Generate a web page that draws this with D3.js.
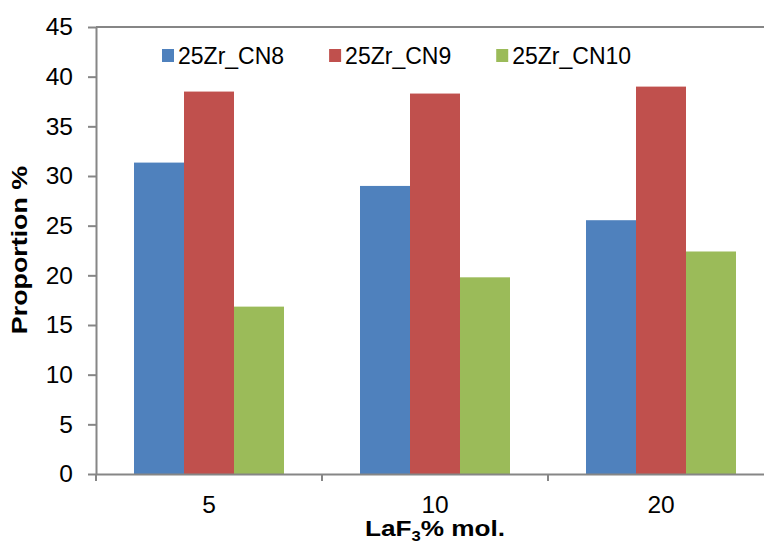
<!DOCTYPE html>
<html>
<head>
<meta charset="utf-8">
<script src="https://cdn.jsdelivr.net/npm/d3@7"></script>
<style>
  html, body { margin: 0; padding: 0; background: #fff; overflow: hidden; }
  text { font-family: "Liberation Sans", Arial, sans-serif; fill: #000; }
</style>
</head>
<body>
<svg id="chart" width="764" height="543"></svg>
<script>
const categories = ["5", "10", "20"];
const series = ["25Zr_CN8", "25Zr_CN9", "25Zr_CN10"];
const cn8Values = [31.35, 29.0, 25.55];
const cn9Values = [38.5, 38.3, 39.0];
const cn10Values = [16.85, 19.8, 22.4];
const seriesColors = ["#4F81BD", "#C0504D", "#9BBB59"];
const yTicks = [0, 5, 10, 15, 20, 25, 30, 35, 40, 45];
const yTitle = "Proportion %";

const valuesBySeries = [cn8Values, cn9Values, cn10Values];
const data = categories.map((c, i) => ({
  cat: c,
  vals: series.map((s, j) => ({ s, j, v: valuesBySeries[j][i] }))
}));

const svg = d3.select("#chart");
const pLeft = 96, pRight = 774, pTop = 27, pBottom = 474;
const axisColor = "#868686";

const x0 = d3.scaleBand().domain(categories).range([pLeft, pRight]).paddingInner(0).paddingOuter(0);
const x1 = d3.scaleBand().domain(series).range([0, x0.bandwidth()]).paddingInner(0).paddingOuter(0.76);
const y = d3.scaleLinear().domain([0, 45]).range([pBottom, pTop]);

// bars
const g = svg.append("g");
g.selectAll("g.cat").data(data).join("g")
  .attr("class", "cat")
  .attr("transform", d => `translate(${x0(d.cat)},0)`)
  .selectAll("rect").data(d => d.vals).join("rect")
  .attr("x", d => x1(d.s))
  .attr("width", x1.bandwidth())
  .attr("y", d => y(d.v))
  .attr("height", d => y(0) - y(d.v))
  .attr("fill", d => seriesColors[d.j]);

// top border
svg.append("line").attr("x1", pLeft).attr("x2", pRight).attr("y1", pTop).attr("y2", pTop)
  .attr("stroke", axisColor).attr("stroke-width", 2);

// y axis
const yAxis = d3.axisLeft(y).tickValues(yTicks).tickSize(8).tickPadding(15).tickSizeOuter(0);
const yg = svg.append("g").attr("transform", `translate(${pLeft},0)`).call(yAxis);
yg.select(".domain").attr("stroke", axisColor).attr("stroke-width", 2);
yg.selectAll(".tick line").attr("stroke", axisColor).attr("stroke-width", 2);
yg.selectAll(".tick text").attr("font-size", 24.5).attr("font-family", "Liberation Sans, Arial, sans-serif").attr("fill", "#000");

// x axis
const xAxis = d3.axisBottom(x0).tickSize(0).tickPadding(22);
const xg = svg.append("g").attr("transform", `translate(0,${pBottom})`).call(xAxis);
xg.select(".domain").attr("stroke", axisColor).attr("stroke-width", 2);
xg.selectAll(".tick text").attr("font-size", 24.5).attr("font-family", "Liberation Sans, Arial, sans-serif").attr("fill", "#000");
// boundary ticks between categories
const bounds = categories.map(c => x0(c)).concat([pRight]);
xg.selectAll("line.bound").data(bounds).join("line")
  .attr("class", "bound")
  .attr("x1", d => d).attr("x2", d => d)
  .attr("y1", 0).attr("y2", 7)
  .attr("stroke", axisColor).attr("stroke-width", 2);

// axis titles
svg.append("text")
  .attr("transform", `translate(27,250) rotate(-90) scale(1.22,1)`)
  .attr("text-anchor", "middle")
  .attr("font-size", 22).attr("font-weight", "bold")
  .text(yTitle);

const xt = svg.append("text")
  .attr("transform", "translate(435,536) scale(1.19,1)")
  .attr("text-anchor", "middle")
  .attr("font-size", 22).attr("font-weight", "bold");
xt.append("tspan").text("LaF");
xt.append("tspan").attr("font-size", 14).attr("dy", 5).text("3");
xt.append("tspan").attr("dy", -5).text("% mol.");

// legend
const legend = svg.append("g").attr("transform", "translate(162,0)");
let lx = 0;
series.forEach((s, j) => {
  legend.append("rect").attr("x", lx).attr("y", 49).attr("width", 12).attr("height", 13)
    .attr("fill", seriesColors[j]);
  const t = legend.append("text").attr("x", lx + 16).attr("y", 64)
    .attr("font-size", 23).text(s);
  const w = t.node().getComputedTextLength();
  lx += 16 + w + 45;
});
</script>
</body>
</html>
